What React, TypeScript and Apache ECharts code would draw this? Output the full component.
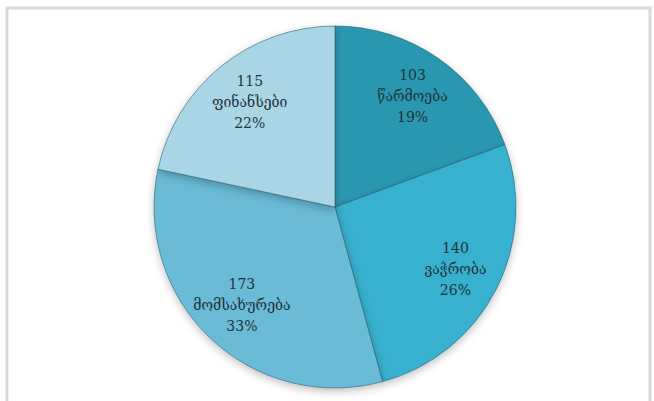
import React, { useEffect, useRef } from "react";
import * as echarts from "echarts";

const categories = ["წარმოება", "ვაჭრობა", "მომსახურება", "ფინანსები"];
const values = [103, 140, 173, 115];
const colors = ["#2c97b0", "#39b0cf", "#69bbd6", "#a9d5e5"];

export default function App() {
  const ref = useRef<HTMLDivElement>(null);
  useEffect(() => {
    if (!ref.current) return;
    const chart = echarts.init(ref.current, null, { renderer: "svg" });
    const data = categories.map((name, i) => ({
      name,
      value: values[i],
      itemStyle: { color: colors[i] },
    }));
    chart.setOption({
      animation: false,
      graphic: [
        {
          type: "rect",
          z: -10,
          shape: { x: 7, y: 8, width: 643, height: 400 },
          style: { fill: "#ffffff", stroke: "#d9d9d9", lineWidth: 3 },
        },
      ],
      series: [
        {
          type: "pie",
          center: [335, 207],
          radius: [0, 181],
          startAngle: 90,
          clockwise: true,
          label: { show: false },
          labelLine: { show: false },
          itemStyle: {
            borderColor: "rgba(30,90,110,0.55)",
            borderWidth: 1,
            shadowBlur: 8,
            shadowOffsetY: 3,
            shadowColor: "rgba(0,0,0,0.25)",
          },
          data,
        },
        {
          type: "pie",
          center: [335, 207],
          radius: [84, 181],
          startAngle: 90,
          clockwise: true,
          silent: true,
          itemStyle: { color: "rgba(0,0,0,0)" },
          label: {
            show: true,
            position: "inside",
            formatter: (p: any) => `${p.value}\n${p.name}\n${Math.round(p.percent)}%`,
            color: "#1f3339",
            fontFamily: "'DejaVu Serif', 'DejaVu Sans', serif",
            fontSize: 14,
            lineHeight: 21,
            align: "center",
          },
          labelLine: { show: false },
          data: categories.map((name, i) => ({ name, value: values[i] })),
        },
      ],
    });
    return () => chart.dispose();
  }, []);
  return (
    <div
      ref={ref}
      style={{ position: "absolute", left: 0, top: 0, width: 654, height: 401 }}
    />
  );
}
